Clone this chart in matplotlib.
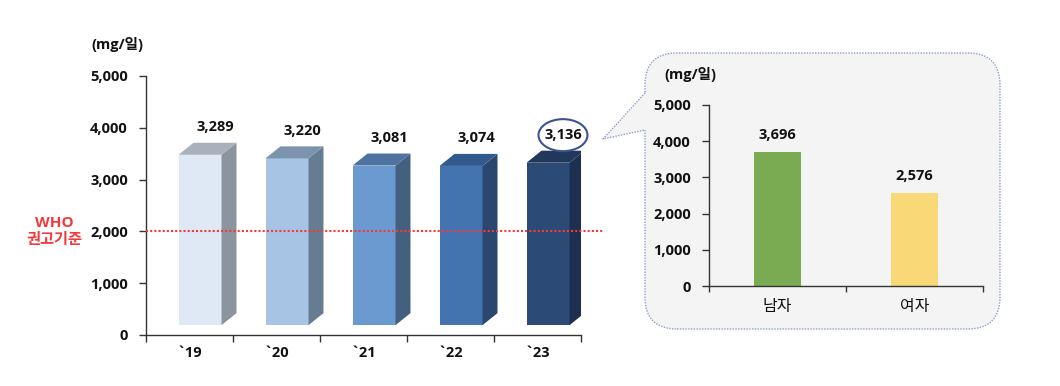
import matplotlib
matplotlib.use("Agg")
import matplotlib.pyplot as plt
from matplotlib.patches import Polygon, Ellipse, FancyBboxPatch
from matplotlib.lines import Line2D

plt.rcParams["font.family"] = ["Open Sans", "Noto Sans CJK KR", "DejaVu Sans"]

# ---------------- data ----------------
years = ["`19", "`20", "`21", "`22", "`23"]
intake = [3289, 3220, 3081, 3074, 3136]
sexes = ["남자", "여자"]
sex_intake = [3696, 2576]
y_ticks = [0, 1000, 2000, 3000, 4000, 5000]
who_level = 2000
unit_label = "(mg/일)"
who_label = "WHO\n권고기준"

# ---------------- style ----------------
front_colors = ["#dfe9f6", "#a7c4e4", "#6b9ad0", "#4474b0", "#2b4b76"]
side_colors = ["#8c949e", "#667c93", "#44607f", "#2b4770", "#1e3050"]
top_colors = ["#a9b2bc", "#7b93ad", "#4e73a0", "#335a8c", "#21385a"]
sex_colors = ["#7aab52", "#f8d877"]
RED = "#f23a3a"
W, H = 1060, 386
BASE = 190        # visual floor of the 3D bars
DX, DY = 0.172, 232  # depth of 3D effect (data units)
FRONT_OFF, FRONT_W = 0.374, 0.494
FS = 10.5

fig = plt.figure(figsize=(10.6, 3.86), dpi=100)


def fx(px):
    return px / W


def fy(py):
    return 1 - py / H


# ---------------- left chart ----------------
ax = fig.add_axes([fx(146), fy(335), (581 - 146) / W, (335 - 76) / H])
ax.set_xlim(0, len(years))
ax.set_ylim(0, 5000)
for s in ["top", "right"]:
    ax.spines[s].set_visible(False)
for s in ["left", "bottom"]:
    ax.spines[s].set_color("#333333")
    ax.spines[s].set_linewidth(1.0)

lefts = [i + FRONT_OFF for i in range(len(years))]
ax.bar(lefts, intake, width=FRONT_W, bottom=BASE, align="edge",
       color=front_colors, edgecolor="none", zorder=2)
for i, v in enumerate(intake):
    l = lefts[i]
    r = l + FRONT_W
    top = BASE + v
    ax.add_patch(Polygon([(r, BASE), (r + DX, BASE + DY), (r + DX, top + DY), (r, top)],
                         closed=True, facecolor=side_colors[i], edgecolor="none", zorder=2))
    ax.add_patch(Polygon([(l, top), (l + DX, top + DY), (r + DX, top + DY), (r, top)],
                         closed=True, facecolor=top_colors[i], edgecolor="none", zorder=2))
    lx = l + FRONT_W / 2 + DX
    ly = top + DY + 300
    ax.text(lx, ly, f"{v:,}", ha="center", va="center", fontsize=FS,
            fontweight="bold", color="#111111", zorder=4)
    if i == len(intake) - 1:
        ax.add_patch(Ellipse((lx, ly), width=0.563, height=618, fill=False,
                             edgecolor="#3b5390", linewidth=1.5, clip_on=False, zorder=4))

ax.plot([0, 5.25], [who_level, who_level], color=RED, linewidth=1.5,
        linestyle=(0, (1, 1)), clip_on=False, zorder=5)
ax.text(-1.05, who_level, who_label, ha="center", va="center", color=RED,
        fontsize=11, fontweight="bold", linespacing=1.3)

ax.set_yticks(y_ticks)
ax.set_yticklabels([f"{t:,}" for t in y_ticks], fontsize=FS, fontweight="bold")
ax.tick_params(axis="y", direction="out", length=5, width=1, pad=8, colors="#333333",
               labelcolor="#111111")
ax.set_xticks(range(len(years) + 1))
ax.set_xticklabels([""] * (len(years) + 1))
ax.tick_params(axis="x", which="major", direction="out", length=5, width=1, colors="#333333")
ax.set_xticks([i + 0.5 for i in range(len(years))], minor=True)
ax.set_xticklabels(years, minor=True, fontsize=FS, fontweight="bold")
ax.tick_params(axis="x", which="minor", length=0, pad=8, labelcolor="#111111")

fig.text(fx(117), fy(45), unit_label, ha="center", va="center", fontsize=FS,
         fontweight="bold", color="#111111")

# ---------------- callout panel ----------------
PANEL_FC = "#f4f4f4"
PANEL_EC = "#8d9ccb"
tr = fig.dpi_scale_trans
panel = FancyBboxPatch((6.45, (386 - 329) / 100), 10.0 - 6.45, (329 - 53) / 100,
                       boxstyle="round,pad=0,rounding_size=0.32", transform=tr,
                       facecolor=PANEL_FC, edgecolor=PANEL_EC, linewidth=1.0,
                       linestyle=(0, (1, 1)), zorder=1)
fig.add_artist(panel)
up = (6.45, (386 - 93) / 100)
tip = (6.03, (386 - 139) / 100)
low = (6.45, (386 - 130) / 100)
fig.add_artist(Polygon([(6.48, up[1] - 0.01), up, tip, low, (6.48, low[1] + 0.01)],
                       closed=True, transform=tr, facecolor=PANEL_FC,
                       edgecolor="none", zorder=1.1))
fig.add_artist(Line2D([up[0], tip[0], low[0]], [up[1], tip[1], low[1]], transform=tr,
                      color=PANEL_EC, linewidth=1.0, linestyle=(0, (1, 1)), zorder=1.2))

# ---------------- right chart ----------------
ax2 = fig.add_axes([fx(709), fy(286), (983 - 709) / W, (286 - 105) / H])
ax2.set_zorder(2)
ax2.patch.set_visible(False)
ax2.set_xlim(0, len(sexes))
ax2.set_ylim(0, 5000)
for s in ["top", "right"]:
    ax2.spines[s].set_visible(False)
for s in ["left", "bottom"]:
    ax2.spines[s].set_color("#333333")
    ax2.spines[s].set_linewidth(1.0)
ax2.bar([i + 0.5 for i in range(len(sexes))], sex_intake, width=0.336,
        color=sex_colors, edgecolor="none", zorder=2)
for i, v in enumerate(sex_intake):
    ax2.text(i + 0.5, v + 470, f"{v:,}", ha="center", va="center", fontsize=FS,
             fontweight="bold", color="#111111")
ax2.set_yticks(y_ticks)
ax2.set_yticklabels([f"{t:,}" for t in y_ticks], fontsize=FS, fontweight="bold")
ax2.tick_params(axis="y", direction="out", length=5, width=1, pad=8, colors="#333333",
                labelcolor="#111111")
ax2.set_xticks(range(len(sexes) + 1))
ax2.set_xticklabels([""] * (len(sexes) + 1))
ax2.tick_params(axis="x", which="major", direction="out", length=4, width=1, colors="#333333")
ax2.set_xticks([i + 0.5 for i in range(len(sexes))], minor=True)
ax2.set_xticklabels(sexes, minor=True, fontsize=11.5)
ax2.tick_params(axis="x", which="minor", length=0, pad=9, labelcolor="#111111")

fig.text(fx(690), fy(74), unit_label, ha="center", va="center", fontsize=FS,
         fontweight="bold", color="#111111")

fig.savefig("out.png", dpi=100)
